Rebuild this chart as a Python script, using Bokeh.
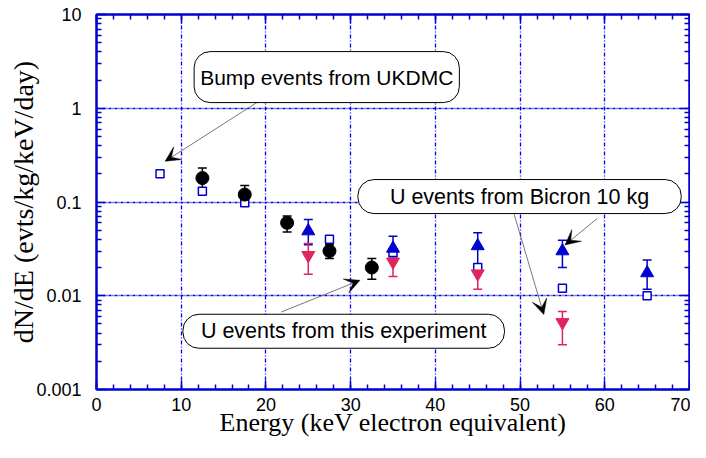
from bokeh.plotting import figure
from bokeh.models import (Range1d, FixedTicker, LinearAxis, LogAxis, Whisker, TeeHead,
                          ColumnDataSource, Label, Arrow, VeeHead)
from bokeh.embed import file_html
from bokeh.resources import INLINE

# ---------------- data ----------------
# this experiment (black circles)
exp_x = [12.5, 17.5, 22.5, 27.5, 32.5]
exp_y = [0.18, 0.12, 0.06, 0.030, 0.020]
exp_lo = [0.14, 0.09, 0.048, 0.025, 0.015]
exp_hi = [0.23, 0.15, 0.071, 0.035, 0.025]

# UKDMC bump events (open blue squares)
bump_x = [7.5, 12.5, 17.5, 27.5, 35, 45, 55, 65]
bump_y = [0.20, 0.13, 0.098, 0.040, 0.029, 0.020, 0.012, 0.010]

# Bicron 10 kg (blue up-triangles)
bic_x = [25, 35, 45, 55, 65]
bic_y = [0.049, 0.032, 0.034, 0.030, 0.0175]
bic_lo = [0.035, 0.026, 0.020, 0.020, 0.0117]
bic_hi = [0.065, 0.043, 0.047, 0.039, 0.024]

# pink down-triangles
pink_x = [25, 35, 45, 55]
pink_y = [0.027, 0.023, 0.0172, 0.0052]
pink_lo = [0.017, 0.016, 0.0117, 0.0030]
pink_hi = [0.036, 0.029, 0.022, 0.0068]

x_ticks = [0, 10, 20, 30, 40, 50, 60, 70]
y_ticks = [0.001, 0.01, 0.1, 1, 10]
y_tick_labels = ["0.001", "0.01", "0.1", "1", "10"]

BLUE = "#0000d0"
PINK = "#e0245e"

p = figure(width=690, height=442, y_axis_type="log",
           x_range=Range1d(0, 70), y_range=Range1d(0.001, 10),
           output_backend="svg", toolbar_location=None,
           min_border_left=96, min_border_right=1, min_border_top=14, min_border_bottom=53)
p.outline_line_color = BLUE
p.outline_line_width = 2
p.background_fill_color = "white"
p.border_fill_color = "white"

x_minor = [v for v in range(0, 71, 2)]
y_minor = [m * 10.0 ** e for e in range(-3, 1) for m in range(2, 10)]
xt = FixedTicker(ticks=x_ticks, minor_ticks=x_minor)
yt = FixedTicker(ticks=y_ticks, minor_ticks=y_minor)

def style_axis(ax, labels=True):
    ax.axis_line_color = BLUE
    ax.axis_line_width = 2
    ax.major_tick_line_color = BLUE
    ax.minor_tick_line_color = BLUE
    ax.major_tick_in = 9
    ax.major_tick_out = 0
    ax.minor_tick_in = 5
    ax.minor_tick_out = 0
    ax.major_tick_line_width = 1.5
    ax.minor_tick_line_width = 1.5
    if labels:
        ax.major_label_text_font = "Liberation Sans"
        ax.major_label_text_font_size = "18px"
        ax.major_label_text_color = "black"
        ax.axis_label_text_font = "Liberation Serif"
        ax.axis_label_text_font_style = "normal"
        ax.axis_label_text_color = "black"
    else:
        ax.major_label_overrides = {t: "" for t in ax.ticker.ticks}
        ax.major_label_text_font_size = "1px"
        ax.major_label_standoff = 0
        ax.axis_label_standoff = 0

xa = p.xaxis[0]
xa.ticker = xt
xa.axis_label = "Energy (keV electron equivalent)"
style_axis(xa)
xa.axis_label_text_font_size = "26px"
xa.major_label_standoff = 8
xa.axis_label_standoff = -6

ya = p.yaxis[0]
ya.ticker = yt
ya.major_label_overrides = dict(zip(y_ticks, y_tick_labels))
ya.axis_label = "dN/dE (evts/kg/keV/day)"
style_axis(ya)
ya.axis_label_text_font_size = "28px"
ya.major_label_standoff = 15
ya.axis_label_standoff = -6

top = LinearAxis(ticker=xt)
style_axis(top, labels=False)
p.add_layout(top, "above")
right = LogAxis(ticker=yt)
style_axis(right, labels=False)
p.add_layout(right, "right")

p.xgrid.ticker = xt
p.ygrid.ticker = yt
p.xgrid.grid_line_color = "#0000ff"
p.xgrid.grid_line_dash = "4 2 1 2"
p.xgrid.grid_line_width = 1.3
p.ygrid.grid_line_color = BLUE
p.ygrid.grid_line_dash = "3 1 1 1"
p.ygrid.grid_line_width = 1.5
p.xgrid.minor_grid_line_color = None
p.ygrid.minor_grid_line_color = None

# ---------------- marks ----------------
s_exp = ColumnDataSource(dict(x=exp_x, y=exp_y, lo=exp_lo, hi=exp_hi))
s_bic = ColumnDataSource(dict(x=bic_x, y=bic_y, lo=bic_lo, hi=bic_hi))
s_pink = ColumnDataSource(dict(x=pink_x, y=pink_y, lo=pink_lo, hi=pink_hi))

for src, col in [(s_exp, "black"), (s_bic, BLUE), (s_pink, PINK)]:
    w = Whisker(base="x", lower="lo", upper="hi", source=src, line_color=col, line_width=1.5,
                upper_head=TeeHead(size=9, line_color=col, line_width=1.5),
                lower_head=TeeHead(size=9, line_color=col, line_width=1.5))
    p.add_layout(w)

p.scatter(bump_x, bump_y, marker="square", size=8, fill_color="white",
          line_color=BLUE, line_width=1.5)
p.scatter("x", "y", source=s_exp, marker="circle", size=13, fill_color="black", line_color="black")
p.scatter("x", "y", source=s_bic, marker="triangle", size=13, fill_color=BLUE, line_color=BLUE)
p.scatter("x", "y", source=s_pink, marker="inverted_triangle", size=13, fill_color=PINK, line_color=PINK)

# ---------------- annotations ----------------
def box(x, y, text, size, ph, pv):
    lab = Label(x=x, y=y, text=text, text_align="center", text_baseline="middle",
                text_font="Liberation Sans", text_font_size=size, text_color="black",
                background_fill_color="white", border_line_color="black", border_line_width=1,
                padding=dict(left=ph, right=ph, top=pv, bottom=pv), border_radius=16)
    p.add_layout(lab)

def arrow(x0, y0, x1, y1):
    p.add_layout(Arrow(x_start=x0, y_start=y0, x_end=x1, y_end=y1,
                       line_color="#555555", line_width=0.8,
                       end=VeeHead(size=15, fill_color="black", line_color="black", line_width=0.5)))

arrow(20.4, 1.40, 8.1, 0.272)
arrow(59.1, 0.0666, 55.3, 0.0348)
arrow(49.3, 0.0741, 52.8, 0.0063)
arrow(21.8, 0.0067, 31.1, 0.0146)

box(27.18, 2.15, "Bump events from UKDMC", "21px", 6, 14)
box(49.94, 0.1143, "U events from Bicron 10 kg", "21.5px", 32, 5)
box(29.18, 0.00418, "U events from this experiment", "21.5px", 18, 5)

open("out.html", "w").write(file_html(p, INLINE))
